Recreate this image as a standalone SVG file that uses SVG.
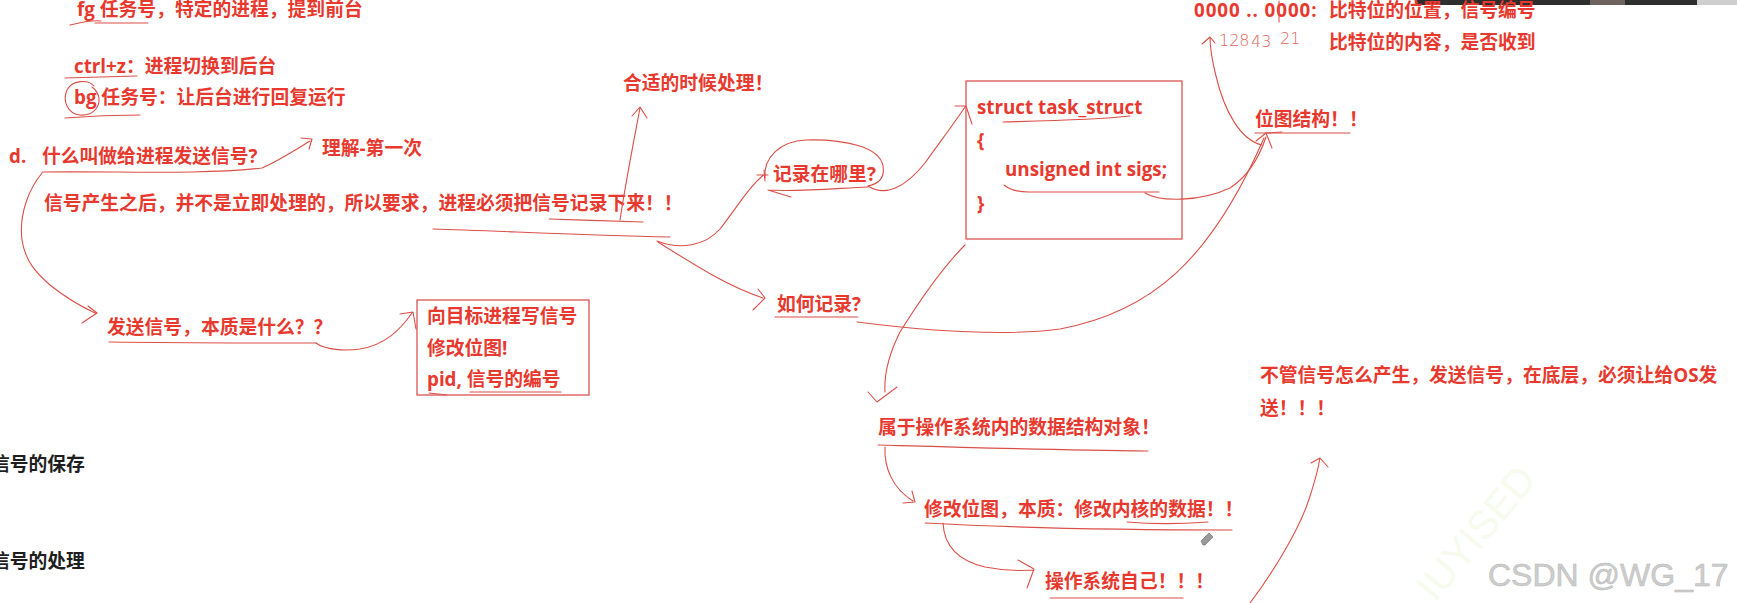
<svg xmlns="http://www.w3.org/2000/svg" width="1737" height="603" viewBox="0 0 1737 603">
<style>
.t{font-family:"Open Sans","Noto Sans CJK SC",sans-serif;font-weight:700;font-size:18.8px;fill:#e8392f}
.k{font-family:"Open Sans","Noto Sans CJK SC",sans-serif;font-weight:700;font-size:18.8px;fill:#1e1e1e}
.ln{fill:none;stroke:#dc4f48;stroke-width:1.1;stroke-linecap:round;stroke-linejoin:round}
.bx{fill:none;stroke:#d9534f;stroke-width:1.3}
.hw{font-family:"DejaVu Sans",sans-serif;font-weight:200;font-size:16px;fill:#e0625c}
</style>
<rect width="1737" height="603" fill="#ffffff"/>
<g id="topbar">
<rect x="1416" y="0" width="281" height="5" fill="#2e2e2e"/>
<rect x="1590" y="0" width="35" height="5" fill="#6e625c"/>
<rect x="1697" y="0" width="40" height="5" fill="#cfcfcf"/>
</g>
<text x="0" y="0" transform="translate(1435,603) rotate(-50)" font-family="Liberation Sans" font-size="40" fill="#f6fbee">IUYISED</text>

<g id="n-fg"><text class="t" x="77" y="16">fg 任务号，特定的进程，提到前台</text>
<path class="ln" d="M70,25 C82,22 94,20 101,21 M95,23 L148,23"/></g>
<g id="n-ctrlz"><text class="t" x="74" y="73">ctrl+z：进程切换到后台</text>
<path class="ln" d="M65,78 L137,76"/></g>
<g id="n-bg"><text class="t" x="74" y="104">bg 任务号：让后台进行回复运行</text>
<path class="ln" d="M94,86 C88,79 72,80 67,90 C62,101 68,114 80,115 C92,116 100,108 99,98 C98,93 96,90 92,87 M65,118 C90,116 115,115 140,115"/></g>
<g id="n-d"><text class="t" x="9" y="163">d.<tspan x="42">什么叫做给进程发送信号?</tspan></text></g>
<g id="n-lijie"><text class="t" x="322" y="155">理解-第一次</text></g>
<g id="n-sentence"><text class="t" x="44" y="210">信号产生之后，并不是立即处理的，所以要求，进程必须把信号记录下来！！</text>
<path class="ln" d="M549,219 C580,220 615,221 643,222 M433,229 C500,231 580,235 670,237"/></g>
<g id="n-heshi"><text class="t" x="623" y="90">合适的时候处理！</text></g>
<g id="n-where"><text class="t" x="773" y="181">记录在哪里?</text>
<path class="ln" d="M765,178 C763,158 780,141 806,140 C845,139 880,147 883,166 C885,178 878,184 868,186 M768,190 C800,192 840,188 868,187 M768,190 L791,197"/></g>
<g id="n-how"><text class="t" x="777" y="311">如何记录?</text>
<path class="ln" d="M775,317 L858,317"/></g>
<g id="n-send"><text class="t" x="107" y="334">发送信号，本质是什么？？</text>
<path class="ln" d="M109,342 C180,343 250,343 316,343"/></g>
<g id="n-box"><rect class="bx" x="417" y="300" width="172" height="95"/>
<text class="t" x="427" y="323">向目标进程写信号</text>
<text class="t" x="427" y="355">修改位图!</text>
<text class="t" x="427" y="386">pid, 信号的编号</text>
<path class="ln" d="M429,393 L447,395 M470,392 L561,392"/></g>
<g id="n-struct"><rect class="bx" x="966" y="81" width="216" height="158"/>
<text class="t" x="977" y="114">struct task_struct</text>
<text class="t" x="977" y="147">{</text>
<text class="t" x="1005" y="176">unsigned int sigs;</text>
<text class="t" x="977" y="210">}</text>
<path class="ln" d="M1003,122 C1040,121 1095,120 1130,116 M1004,185 C1010,190 1020,192 1029,192 L1159,192"/></g>
<g id="n-bits"><text class="t" x="1194" y="17"><tspan letter-spacing="0.9">0000 .. 0000:</tspan><tspan x="1329">比特位的位置，信号编号</tspan></text>
<text class="t" x="1329" y="49">比特位的内容，是否收到</text>
<path class="ln" d="M1279,1 L1279,22"/>
<text class="hw" x="1219" y="46">128</text><text class="hw" x="1251" y="47">43</text><text class="hw" x="1280" y="44">21</text></g>
<g id="n-bitmap"><text class="t" x="1255" y="126">位图结构！！</text>
<path class="ln" d="M1255,133 L1350,133"/></g>
<g id="n-belong"><text class="t" x="878" y="434">属于操作系统内的数据结构对象！</text>
<path class="ln" d="M878,445 C950,447 1050,450 1148,451"/></g>
<g id="n-modify"><text class="t" x="924" y="516">修改位图，本质：修改内核的数据！！</text>
<path class="ln" d="M925,523 C1000,527 1100,530 1232,530 M1127,522 C1150,524 1180,524 1208,522"/></g>
<g id="n-os"><text class="t" x="1045" y="588">操作系统自己！！！</text>
<path class="ln" d="M1050,598 L1183,598"/></g>
<g id="n-nomatter"><text class="t" x="1260" y="382">不管信号怎么产生，发送信号，在底层，必须让给OS发</text>
<text class="t" x="1260" y="415">送！！！</text></g>
<g id="n-save"><text class="k" x="-9" y="471">信号的保存</text></g>
<g id="n-handle"><text class="k" x="-9" y="568">信号的处理</text></g>
<g id="cursor"><path d="M1203,545 L1201,541 L1209,533 L1213,537 L1205,545 Z" fill="#9a9a9a" stroke="#666" stroke-width="0.6"/></g>
<text x="1488" y="586" font-family="Liberation Sans" font-size="32" fill="#cdcdcd" stroke="#b8b8b8" stroke-width="0.5">CSDN @WG_17</text>

<g id="connectors">
<path class="ln" d="M42,172 C120,171 200,175 262,168 C280,160 295,150 310,141 M301,138 L312,139 L309,149"/>
<path class="ln" d="M42,173 C28,190 19,215 22,240 C25,260 35,272 50,285 C65,297 80,306 95,313 M88,306 L97,313 L82,323"/>
<path class="ln" d="M620,220 C626,180 634,140 640,108 M632,116 L640,107 L647,118"/>
<path class="ln" d="M657,241 C680,250 705,246 720,229 C735,210 750,185 765,174 M757,175 L768,175 M764,170 L765,181"/>
<path class="ln" d="M658,242 C690,262 725,285 763,298 M758,289 L765,298 L753,310"/>
<path class="ln" d="M868,186 C885,197 905,188 925,163 C940,142 955,122 965,107 M955,106 L966,106 L972,124"/>
<path class="ln" d="M965,245 C945,265 920,300 900,332 C888,356 884,375 885,392 M868,392 L877,402 L897,387"/>
<path class="ln" d="M857,322 C920,330 1000,337 1060,329 C1150,312 1210,262 1264,138"/>
<path class="ln" d="M1145,193 C1160,202 1200,202 1230,188 C1250,175 1260,155 1266,137"/>
<path class="ln" d="M1262,145 C1240,140 1224,110 1216,76 C1212,60 1210,45 1210,37 M1202,44 L1210,37 L1215,43"/>
<path class="ln" d="M1256,141 L1266,133 L1272,148 M1266,133 L1282,132"/>
<path class="ln" d="M316,343 C325,350 345,351 360,349 C385,345 400,330 412,313 M400,314 L413,312 L416,329"/>
<path class="ln" d="M885,447 C884,467 892,488 913,501 M903,503 L915,502 L912,491"/>
<path class="ln" d="M943,523 C944,543 955,560 985,567 C1005,571 1020,571 1034,570 M1018,560 L1034,569 L1027,588"/>
<path class="ln" d="M1250,603 C1275,570 1298,530 1307,505 C1314,485 1318,470 1320,458 M1311,463 L1320,458 L1328,467"/>
</g>
</svg>
